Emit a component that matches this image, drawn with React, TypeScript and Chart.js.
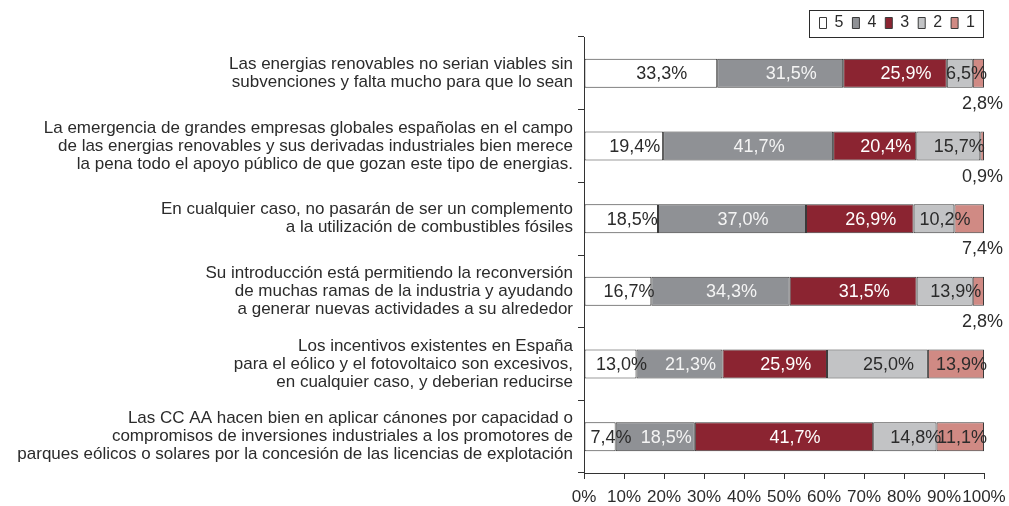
import React, { useEffect, useRef } from 'react';
import { Chart, registerables } from 'chart.js';

Chart.register(...registerables);

const categories: string[][] = [
  ['Las energias renovables no serian viables sin', 'subvenciones y falta mucho para que lo sean'],
  [
    'La emergencia de grandes empresas globales españolas en el campo',
    'de las energias renovables y sus derivadas industriales bien merece',
    'la pena todo el apoyo público de que gozan este tipo de energias.',
  ],
  ['En cualquier caso, no pasarán de ser un complemento', 'a la utilización de combustibles fósiles'],
  [
    'Su introducción está permitiendo la reconversión',
    'de muchas ramas de la industria y ayudando',
    'a generar nuevas actividades a su alrededor',
  ],
  [
    'Los incentivos existentes en España',
    'para el eólico y el fotovoltaico son excesivos,',
    'en cualquier caso, y deberian reducirse',
  ],
  [
    'Las CC AA hacen bien en aplicar cánones por capacidad o',
    'compromisos de inversiones industriales a los promotores de',
    'parques eólicos o solares por la concesión de las licencias de explotación',
  ],
];

const seriesNames = ['5', '4', '3', '2', '1'];
const score5 = [33.3, 19.4, 18.5, 16.7, 13.0, 7.4];
const score4 = [31.5, 41.7, 37.0, 34.3, 21.3, 18.5];
const score3 = [25.9, 20.4, 26.9, 31.5, 25.9, 41.7];
const score2 = [6.5, 15.7, 10.2, 13.9, 25.0, 14.8];
const score1 = [2.8, 0.9, 7.4, 2.8, 13.9, 11.1];
const xTickValues = [0, 10, 20, 30, 40, 50, 60, 70, 80, 90, 100];

const rawSeries = [score5, score4, score3, score2, score1];
const fillColors = ['#ffffff', '#8f9195', '#8b2431', '#c2c3c5', '#d08a84'];
const labelColors = ['#2b2b2b', '#f4f4f4', '#ffffff', '#2b2b2b', '#2b2b2b'];
const FONT = '"Liberation Sans", Arial, Helvetica, sans-serif';

const totals = categories.map((_, i) => rawSeries.reduce((s, arr) => s + arr[i], 0));
const fmt = (v: number) => v.toFixed(1).replace('.', ',') + '%';

const segLabels = {
  id: 'segLabels',
  afterDatasetsDraw(chart: any) {
    const ctx = chart.ctx;
    const area = chart.chartArea;
    ctx.save();
    ctx.font = `18px ${FONT}`;
    ctx.textBaseline = 'middle';
    chart.data.datasets.forEach((_: any, di: number) => {
      const meta = chart.getDatasetMeta(di);
      meta.data.forEach((el: any, i: number) => {
        const raw = rawSeries[di][i];
        const txt = fmt(raw);
        const { x, base, y, height } = el.getProps(['x', 'base', 'y', 'height'], true);
        const w = ctx.measureText(txt).width;
        if (di === rawSeries.length - 1 && raw < 8) {
          ctx.fillStyle = '#2b2b2b';
          ctx.textAlign = 'right';
          ctx.fillText(txt, area.right + 19, y + height / 2 + 16);
        } else {
          let cx = (x + base) / 2 + 11;
          cx = Math.min(cx, area.right + 3 - w / 2);
          cx = Math.max(cx, area.left + 3 + w / 2);
          ctx.fillStyle = labelColors[di];
          ctx.textAlign = 'center';
          ctx.fillText(txt, cx, y + 1);
        }
      });
    });
    ctx.restore();
  },
};

const legendBorder = {
  id: 'legendBorder',
  afterDraw(chart: any) {
    const lg = chart.legend;
    const hb = lg && lg.legendHitBoxes;
    if (!hb || !hb.length) return;
    const ctx = chart.ctx;
    const last = hb[hb.length - 1];
    const l = hb[0].left - 11;
    const r = last.left + last.width + 8;
    const t = lg.top + 4;
    ctx.save();
    ctx.strokeStyle = '#2b2b2b';
    ctx.lineWidth = 1;
    ctx.strokeRect(Math.round(l) + 0.5, Math.round(t) + 0.5, Math.round(r - l), 27);
    ctx.restore();
  },
};

export default function App() {
  const ref = useRef<HTMLCanvasElement | null>(null);

  useEffect(() => {
    if (!ref.current) return;
    Chart.defaults.font.family = FONT;
    const chart = new Chart(ref.current, {
      type: 'bar',
      data: {
        labels: categories,
        datasets: rawSeries.map((arr, di) => ({
          label: seriesNames[di],
          data: arr.map((v, i) => (v / totals[i]) * 100),
          backgroundColor: fillColors[di],
          borderColor: '#3a3a3a',
          borderWidth: 1,
          borderSkipped: false,
          barPercentage: 0.4,
          categoryPercentage: 1,
        })),
      },
      options: {
        indexAxis: 'y',
        responsive: false,
        animation: false,
        layout: { padding: { top: 6, right: 25, left: 0, bottom: 0 } },
        plugins: {
          tooltip: { enabled: false },
          legend: {
            position: 'top',
            align: 'end',
            maxHeight: 31,
            labels: {
              boxWidth: 7,
              boxHeight: 11,
              padding: 9,
              color: '#2b2b2b',
              font: { size: 16, family: FONT },
            },
          },
        },
        scales: {
          x: {
            stacked: true,
            min: 0,
            max: 100,
            afterBuildTicks: (scale: any) => {
              scale.ticks = xTickValues.map((v) => ({ value: v }));
            },
            afterFit: (scale: any) => {
              scale.height = 33;
              scale.paddingRight = 25;
            },
            ticks: {
              callback: (v: any) => `${v}%`,
              color: '#2b2b2b',
              font: { size: 17, family: FONT },
              padding: 8,
              autoSkip: false,
              maxRotation: 0,
            },
            grid: {
              drawOnChartArea: false,
              drawTicks: true,
              tickLength: 6,
              color: '#333333',
            },
            border: { display: true, color: '#333333', width: 1 },
          },
          y: {
            stacked: true,
            afterFit: (scale: any) => {
              scale.width = 584;
            },
            ticks: {
              color: '#2b2b2b',
              font: { size: 17, family: FONT, lineHeight: 18 / 17 },
              padding: 5,
              autoSkip: false,
            },
            grid: {
              offset: true,
              drawOnChartArea: false,
              drawTicks: true,
              tickLength: 6,
              color: '#333333',
            },
            border: { display: true, color: '#333333', width: 1 },
          },
        },
      },
      plugins: [segLabels, legendBorder],
    } as any);
    return () => chart.destroy();
  }, []);

  return (
    <div style={{ position: 'absolute', left: 0, top: 0, width: 1009, height: 506, background: '#ffffff' }}>
      <canvas ref={ref} width={1009} height={506} style={{ display: 'block' }} />
    </div>
  );
}
